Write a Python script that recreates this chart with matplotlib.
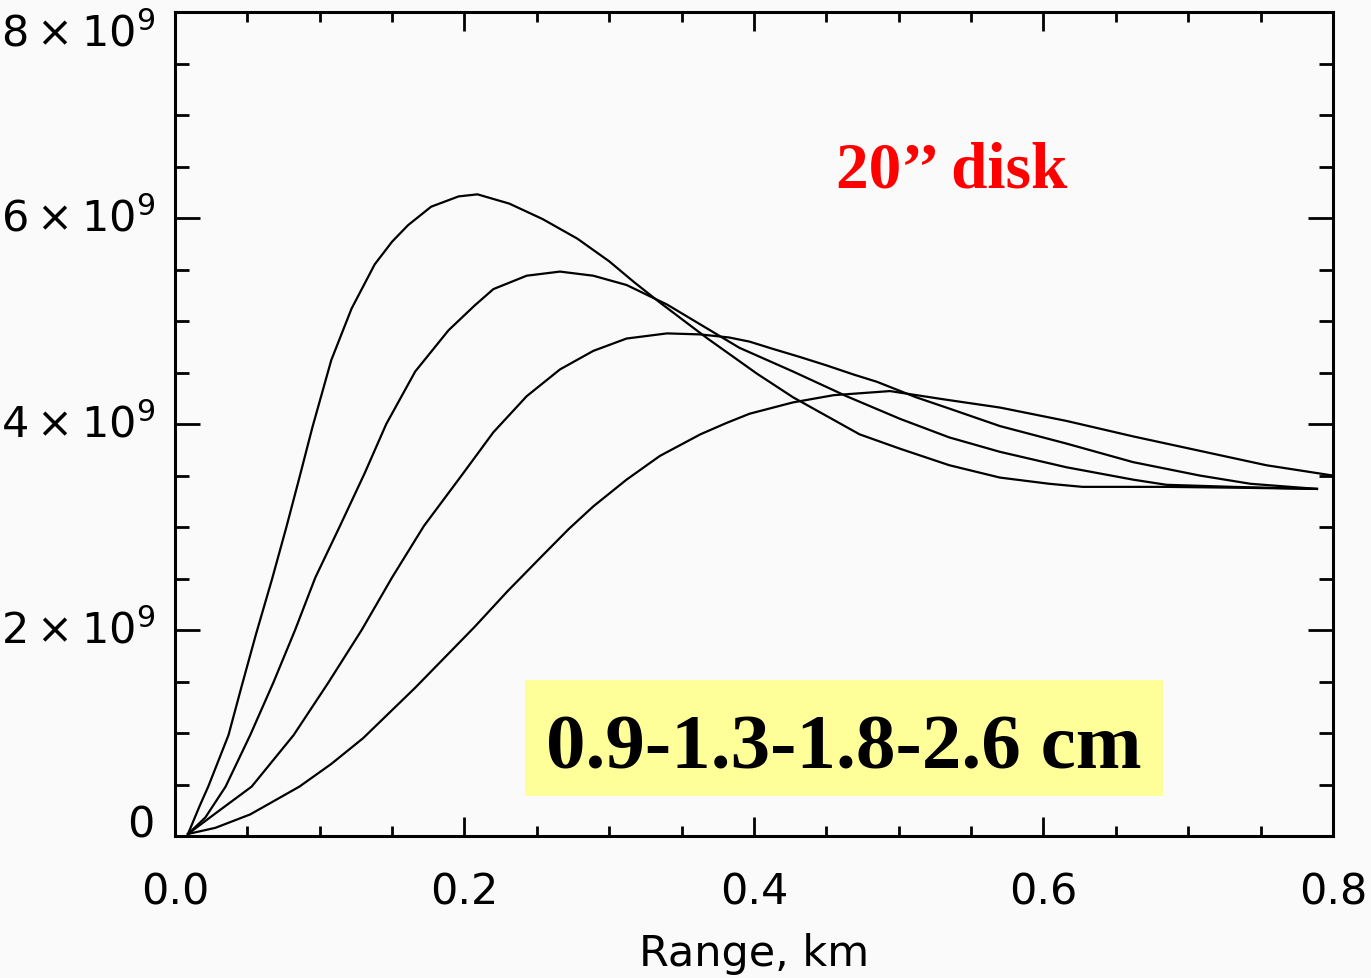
import numpy as np
import matplotlib.pyplot as plt
import matplotlib.transforms as transforms
from matplotlib.patches import Rectangle
from matplotlib.ticker import MultipleLocator, FuncFormatter

# Range (km) and signal (units of 1e9)
x_09 = [0.009, 0.017, 0.023, 0.037, 0.046, 0.056, 0.067, 0.077, 0.086, 0.095,
        0.108, 0.122, 0.138, 0.150, 0.161, 0.177, 0.196, 0.209, 0.231, 0.254, 0.278, 0.300,
        0.317, 0.335, 0.351, 0.368, 0.386, 0.402, 0.427, 0.450, 0.473, 0.501, 0.535,
        0.570, 0.604, 0.627, 0.685, 0.743, 0.789]
y_09 = [0.02, 0.29, 0.48, 0.98, 1.45, 1.96, 2.49, 3.00, 3.48, 3.97,
        4.62, 5.12, 5.55, 5.77, 5.93, 6.11, 6.21, 6.23, 6.14, 5.99, 5.80, 5.58,
        5.38, 5.18, 5.01, 4.83, 4.65, 4.49, 4.26, 4.08, 3.90, 3.76, 3.60,
        3.48, 3.42, 3.39, 3.39, 3.38, 3.37]

x_13 = [0.009, 0.021, 0.035, 0.052, 0.068, 0.083, 0.097, 0.114, 0.131, 0.146, 0.166,
        0.189, 0.207, 0.220, 0.243, 0.266, 0.289, 0.312, 0.340, 0.365, 0.390, 0.427,
        0.464, 0.501, 0.535, 0.570, 0.616, 0.662, 0.685, 0.731, 0.789]
y_13 = [0.02, 0.18, 0.48, 0.98, 1.49, 2.00, 2.51, 3.01, 3.52, 4.00, 4.51,
        4.91, 5.15, 5.31, 5.44, 5.48, 5.44, 5.35, 5.16, 4.95, 4.74, 4.51,
        4.27, 4.05, 3.87, 3.73, 3.58, 3.46, 3.41, 3.39, 3.37]

x_18 = [0.009, 0.028, 0.053, 0.082, 0.106, 0.129, 0.150, 0.172, 0.198, 0.220, 0.243,
        0.266, 0.289, 0.312, 0.340, 0.363, 0.383, 0.397, 0.413, 0.432, 0.450, 0.469,
        0.485, 0.512, 0.535, 0.570, 0.616, 0.662, 0.708, 0.743, 0.789]
y_18 = [0.02, 0.22, 0.48, 0.98, 1.49, 2.00, 2.51, 3.01, 3.50, 3.92, 4.27,
        4.53, 4.71, 4.83, 4.88, 4.87, 4.84, 4.80, 4.73, 4.65, 4.57, 4.48,
        4.41, 4.26, 4.15, 3.98, 3.81, 3.63, 3.50, 3.42, 3.37]

x_26 = [0.009, 0.028, 0.052, 0.086, 0.108, 0.130, 0.166, 0.207, 0.230, 0.253, 0.272,
        0.289, 0.312, 0.335, 0.363, 0.381, 0.397, 0.427, 0.455, 0.494, 0.531, 0.570,
        0.616, 0.662, 0.708, 0.754, 0.800]
y_26 = [0.02, 0.08, 0.21, 0.48, 0.70, 0.95, 1.44, 2.03, 2.38, 2.71, 2.98,
        3.20, 3.46, 3.69, 3.90, 4.01, 4.10, 4.21, 4.28, 4.32, 4.24, 4.16,
        4.03, 3.88, 3.74, 3.60, 3.50]

curves = [(x_09, y_09), (x_13, y_13), (x_18, y_18), (x_26, y_26)]

y_ticks = [0, 2, 4, 6, 8]
y_ticklabels = ['0', r'$2\times10^{9}$', r'$4\times10^{9}$',
                r'$6\times10^{9}$', r'$8\times10^{9}$']

bg = '#fafafa'
fig = plt.figure(figsize=(13.71, 9.79), dpi=100, facecolor=bg)
ax = fig.add_axes([0.1276, 0.1450, 0.8446, 0.8417], facecolor=bg)

for xs, ys in curves:
    ax.plot(xs, np.array(ys) * 1e9, color='black', linewidth=1.6)

ax.set_xlim(0, 0.8)
ax.set_ylim(0, 8e9)

ax.xaxis.set_major_locator(MultipleLocator(0.2))
ax.xaxis.set_minor_locator(MultipleLocator(0.05))
ax.yaxis.set_major_locator(MultipleLocator(2e9))
ax.yaxis.set_minor_locator(MultipleLocator(0.5e9))
ax.xaxis.set_major_formatter(FuncFormatter(lambda v, pos: '%.1f' % v))

for s in ax.spines.values():
    s.set_linewidth(2.2)

ax.tick_params(axis='both', which='both', direction='in', top=True, right=True,
               width=2.0, labelsize=31)
ax.tick_params(axis='x', which='major', length=14, pad=25)
ax.tick_params(axis='x', which='minor', length=7)
ax.tick_params(axis='y', which='major', length=18, labelleft=False)
ax.tick_params(axis='y', which='minor', length=10)

# y tick labels placed by hand so the top and bottom ones stay inside the figure
trans = transforms.blended_transform_factory(ax.transAxes, ax.transData)
for v, lab in zip(y_ticks, y_ticklabels):
    if v == y_ticks[0]:
        va = 'baseline'
    elif v == y_ticks[-1]:
        va = 'top'
    else:
        va = 'center'
    ax.text(-0.0173, v * 1e9, lab, transform=trans, ha='right', va=va,
            fontsize=31, clip_on=False)

ax.set_xlabel('Range, km', fontsize=31)
ax.xaxis.set_label_coords(0.5, -0.117)

# yellow label box
ax.add_patch(Rectangle((0.3022, 0.0485), 0.5510, 0.1408, transform=ax.transAxes,
                       facecolor='#ffff99', edgecolor='none', zorder=3))
ax.text(0.5777, 0.0837, '0.9-1.3-1.8-2.6 cm', transform=ax.transAxes,
        ha='center', va='baseline', fontsize=57, fontweight='bold',
        family='Liberation Serif', color='black', zorder=4)

ax.text(0.6705, 0.7888, '20\u2019\u2019 disk', transform=ax.transAxes,
        ha='center', va='baseline', fontsize=47, fontweight='bold',
        family='Liberation Serif', color='#ff0000')

fig.savefig('out.png', dpi=100, facecolor=bg)
